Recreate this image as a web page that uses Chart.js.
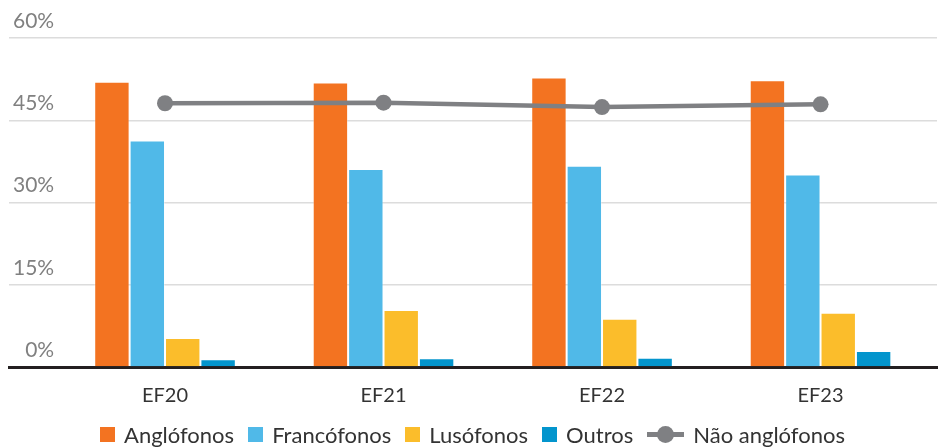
<!DOCTYPE html>
<html>
<head>
<meta charset="utf-8">
<script src="https://cdn.jsdelivr.net/npm/chart.js@4"></script>
<style>
  body { margin: 0; background: #fff; }
  #wrap { position: relative; width: 945px; height: 448px; }
  #legend {
    position: absolute; left: 0; right: 0; top: 421px;
    display: flex; justify-content: center; align-items: center;
    font-family: Lato, sans-serif; font-size: 22px; color: #333;
  }
  .item { display: flex; align-items: center; margin: 0 7px; }
  .box { width: 15px; height: 15px; margin-right: 9px; }
  .line { position: relative; width: 37px; height: 15px; margin-right: 9px; }
  .line span { position: absolute; left: 0; right: 0; top: 5px; height: 5px; }
  .line i { position: absolute; left: 10px; top: -1px; width: 17px; height: 17px; border-radius: 50%; }
</style>
</head>
<body>
<div id="wrap">
  <canvas id="chart"></canvas>
  <div id="legend"></div>
</div>
<script>
const categories = ["EF20", "EF21", "EF22", "EF23"];
const anglofonos = [52.0, 51.9, 52.8, 52.3];
const francofonos = [41.3, 36.1, 36.7, 35.1];
const lusofonos = [5.3, 10.4, 8.8, 9.9];
const outros = [1.4, 1.6, 1.7, 2.9];
const naoAnglofonos = [48.1, 48.2, 47.4, 47.9];
const yTicks = [0, 15, 30, 45, 60];

const points = vals => vals.map((v, i) => ({ x: i, y: v }));

function bar(label, vals, color) {
  return {
    type: "bar", label, data: points(vals), backgroundColor: color,
    borderColor: "rgba(255,255,255,0.35)", borderWidth: 1,
    categoryPercentage: 0.648, barPercentage: 1
  };
}

const chart = new Chart(document.getElementById("chart"), {
  data: {
    datasets: [
      bar("Anglófonos", anglofonos, "#f37321"),
      bar("Francófonos", francofonos, "#50b9e8"),
      bar("Lusófonos", lusofonos, "#fbbd2b"),
      bar("Outros", outros, "#0395cd"),
      {
        type: "line", label: "Não anglófonos", data: points(naoAnglofonos),
        borderColor: "#7f8083", backgroundColor: "#7f8083", borderWidth: 4.5,
        pointRadius: 8, pointHoverRadius: 8, pointBackgroundColor: "#7f8083",
        pointBorderWidth: 0, fill: false, order: -1
      }
    ]
  },
  options: {
    responsive: true,
    maintainAspectRatio: false,
    animation: false,
    layout: { padding: { top: 38, left: 1, right: 0, bottom: 31 } },
    plugins: { legend: { display: false }, tooltip: { enabled: false } },
    scales: {
      x: {
        type: "linear",
        min: -0.714,
        max: 3.533,
        offset: false,
        grid: { display: false, offset: false },
        border: { color: "#231f20", width: 3 },
        afterBuildTicks: scale => { scale.ticks = categories.map((c, i) => ({ value: i })); },
        ticks: {
          callback: v => categories[v],
          padding: 9,
          color: "#333",
          font: { family: "Lato", size: 20 }
        }
      },
      y: {
        min: 0,
        max: 60,
        afterBuildTicks: scale => { scale.ticks = yTicks.map(v => ({ value: v })); },
        grid: { color: "#dcdcdc", lineWidth: 1.5, drawTicks: false },
        border: { display: false },
        ticks: {
          mirror: true,
          crossAlign: "far",
          padding: 4,
          labelOffset: -17,
          color: "#808080",
          font: { family: "Lato", size: 21 },
          callback: v => v + "%"
        }
      }
    }
  }
});

// HTML legend built from the datasets
const legend = document.getElementById("legend");
chart.data.datasets.forEach(ds => {
  const item = document.createElement("div");
  item.className = "item";
  if (ds.type === "line") {
    item.innerHTML = `<div class="line"><span style="background:${ds.borderColor}"></span><i style="background:${ds.borderColor}"></i></div>${ds.label}`;
  } else {
    item.innerHTML = `<div class="box" style="background:${ds.backgroundColor}"></div>${ds.label}`;
  }
  legend.appendChild(item);
});
</script>
</body>
</html>
